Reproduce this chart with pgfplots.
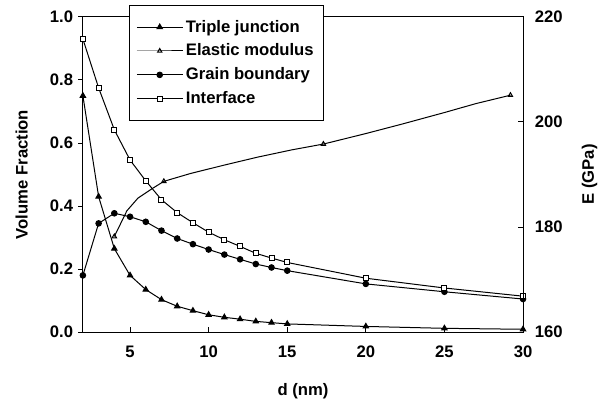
\documentclass[border=0pt]{standalone}
\usepackage{pgfplots}
\pgfplotsset{compat=1.18}
\usepackage{fontspec}
\setmainfont{Liberation Sans}

\begin{document}
\begin{tikzpicture}
% picture frame: axis box is 317pt x 227pt at the origin
\useasboundingbox (-59.7pt,-51.8pt) rectangle (374.6pt,239.2pt);
\pgfplotsset{
  every axis/.append style={
    width=317pt, height=227pt, scale only axis,
    font=\bfseries\fontsize{12}{14}\selectfont,
    /pgf/number format/assume math mode=true,
    axis line style={line width=0.72pt},
    tick style={line width=0.72pt, black},
    major tick length=3.5pt,
  },
}
\begin{axis}[
  xmin=2, xmax=30, ymin=0, ymax=1,
  xtick={5,10,15,20,25,30},
  ytick={0,0.2,0.4,0.6,0.8,1.0},
  yticklabel style={/pgf/number format/.cd,fixed,fixed zerofill,precision=1},
  xticklabel style={yshift=-6.5pt},
  xtick pos=bottom, ytick pos=left,
  xtick align=inside, ytick align=outside,
  xlabel={d (nm)}, ylabel={Volume Fraction},
  xlabel style={at={(axis description cs:0.5,-0.188)}, anchor=center},
  ylabel style={at={(axis description cs:-0.139,0.5)}, anchor=center},
  legend style={at={(0.1045,1.038)}, anchor=north west, draw=black, line width=0.72pt,
    font=\bfseries\fontsize{12}{14}\selectfont, row sep=3pt, inner xsep=5pt, inner ysep=8.5pt},
  legend cell align=left,
  legend image code/.code={\draw[mark repeat=2,mark phase=2] plot coordinates {(0cm,0cm) (0.58cm,0cm) (1.16cm,0cm)};},
  every axis plot/.append style={line width=0.72pt, black},
]
\addplot[mark=triangle*, mark size=2.2pt] coordinates {
 (2,0.75)(3,0.43)(4,0.265)(5,0.18)(6,0.135)(7,0.103)(8,0.082)(9,0.068)(10,0.055)
 (11,0.047)(12,0.041)(13,0.034)(14,0.030)(15,0.026)(20,0.018)(25,0.012)(30,0.009)};
\addlegendentry{Triple junction}
\addlegendimage{line width=0.72pt, black, mark=triangle, mark size=1.8pt, mark options={fill=white}}
\addlegendentry{Elastic modulus}
\addplot[mark=*, mark size=2pt] coordinates {
 (2,0.18)(3,0.345)(4,0.377)(5,0.366)(6,0.35)(7,0.322)(8,0.297)(9,0.279)(10,0.262)
 (11,0.246)(12,0.231)(13,0.216)(14,0.205)(15,0.195)(20,0.153)(25,0.128)(30,0.105)};
\addlegendentry{Grain boundary}
\addplot[mark=square*, mark size=1.8pt, mark options={fill=white}] coordinates {
 (2,0.93)(3,0.775)(4,0.642)(5,0.546)(6,0.48)(7,0.42)(8,0.379)(9,0.347)(10,0.317)
 (11,0.293)(12,0.272)(13,0.25)(14,0.235)(15,0.221)(20,0.171)(25,0.14)(30,0.114)};
\addlegendentry{Interface}
\end{axis}
\begin{axis}[
  xmin=2, xmax=30, ymin=160, ymax=220,
  axis x line=none, axis y line*=right,
  ytick={160,180,200,220},
  ytick align=inside,
  yticklabel style={xshift=5pt},
  ylabel={E (GPa)},
  ylabel style={at={(axis description cs:1.151,0.5)}, anchor=center},
]
\addplot[line width=0.72pt, black, mark=triangle, mark size=1.8pt, mark options={fill=white},
  mark indices={1,5,10,15}] coordinates {
 (4,178.2)(4.8,183.1)(5.5,185.5)(6.4,187.3)(7.15,188.7)(8.85,190.2)(11,191.8)(13.1,193.3)
 (15.3,194.7)(17.3,195.8)(20,197.8)(22.3,199.6)(25,201.8)(27,203.5)(29.2,205.1)};
\end{axis}
\end{tikzpicture}
\end{document}
